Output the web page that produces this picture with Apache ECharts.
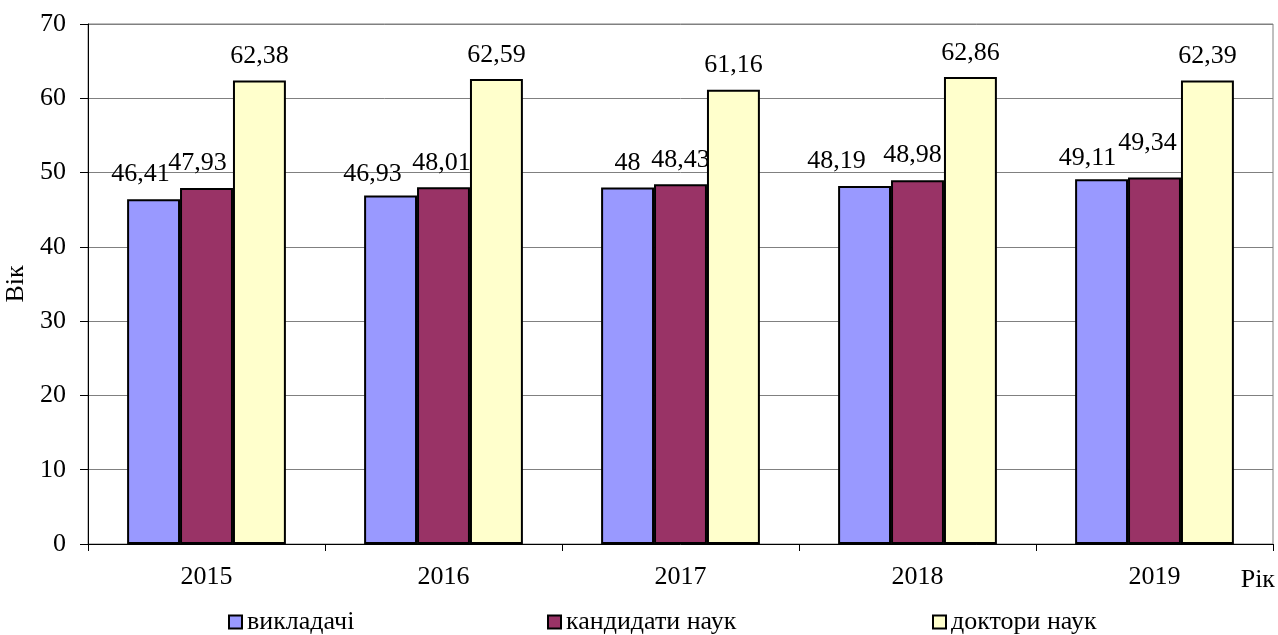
<!DOCTYPE html>
<html>
<head>
<meta charset="utf-8">
<script src="https://cdn.jsdelivr.net/npm/echarts@6/dist/echarts.min.js"></script>
<style>
html,body{margin:0;padding:0;background:#fff;}
#chart{width:1278px;height:635px;}
</style>
</head>
<body>
<div id="chart"></div>
<script>
const categories = ['2015', '2016', '2017', '2018', '2019'];
const seriesNames = ['викладачі', 'кандидати наук', 'доктори наук'];
const teachers = [46.41, 46.93, 48, 48.19, 49.11];
const candidates = [47.93, 48.01, 48.43, 48.98, 49.34];
const doctors = [62.38, 62.59, 61.16, 62.86, 62.39];
const yTicks = [0, 10, 20, 30, 40, 50, 60, 70];

const FONT = "'Liberation Serif', 'Times New Roman', serif";
const colors = ['#9999FF', '#993366', '#FFFFCC'];
// label nudges (as Excel moved overlapping labels)
const labelNudges = [
  [[-13, -1], [-18, 3], [0, 0], [-28, -1], [-14, 3]],
  [[-9, -1], [-2, 0], [0, 0], [-5, -1], [-7, -10]],
  [[0, 0], [0, 0], [0, 0], [0, 0], [0, 0]]
];
const values = [teachers, candidates, doctors];

const fmt = v => String(v).replace('.', ',');

const series = values.map((arr, si) => ({
  name: seriesNames[si],
  type: 'bar',
  z: 2 + si,
  barGap: 0,
  barCategoryGap: '33%',
  itemStyle: { color: colors[si], borderColor: '#000', borderWidth: 2 },
  label: {
    show: true, position: 'top', distance: 11,
    fontFamily: FONT, fontSize: 26, color: '#000',
    formatter: p => fmt(p.value)
  },
  data: arr.map((v, i) => ({ value: v, label: { offset: labelNudges[si][i] } }))
}));

const legendLefts = [228, 547, 932];
const legends = seriesNames.map((n, i) => ({
  data: [{ name: n, icon: 'rect' }],
  left: legendLefts[i],
  top: 609,
  padding: 0,
  itemWidth: 13,
  itemHeight: 13,
  selectedMode: false,
  itemStyle: { borderColor: '#000', borderWidth: 2 },
  textStyle: { fontFamily: FONT, fontSize: 26, color: '#000' }
}));

const chart = echarts.init(document.getElementById('chart'), null, { renderer: 'canvas' });
chart.setOption({
  animation: false,
  backgroundColor: '#fff',
  legend: legends,
  grid: {
    left: 88, right: 5, top: 24, bottom: 91,
    containLabel: false,
    outerBoundsMode: 'none',
    show: true, borderColor: '#808080', borderWidth: 1
  },
  xAxis: {
    type: 'category',
    data: categories,
    axisLine: { lineStyle: { color: '#000', width: 1 } },
    axisTick: { show: true, length: 7, lineStyle: { color: '#000' } },
    axisLabel: { fontFamily: FONT, fontSize: 26, color: '#000', margin: 20 }
  },
  yAxis: {
    type: 'value',
    min: yTicks[0],
    max: yTicks[yTicks.length - 1],
    interval: yTicks[1] - yTicks[0],
    name: 'Вік',
    nameLocation: 'middle',
    nameGap: 51,
    nameRotate: 90,
    nameTextStyle: { fontFamily: FONT, fontSize: 26, color: '#000' },
    axisLine: { show: true, lineStyle: { color: '#000', width: 1 } },
    axisTick: { show: true, length: 8, lineStyle: { color: '#000' } },
    axisLabel: { fontFamily: FONT, fontSize: 26, color: '#000', margin: 22 },
    splitLine: { show: true, lineStyle: { color: '#808080', width: 1 } }
  },
  graphic: [{
    type: 'text',
    right: 3,
    top: 567,
    style: { text: 'Рік', font: "26px 'Liberation Serif', 'Times New Roman', serif", fill: '#000' }
  }],
  series: series
});
</script>
</body>
</html>
